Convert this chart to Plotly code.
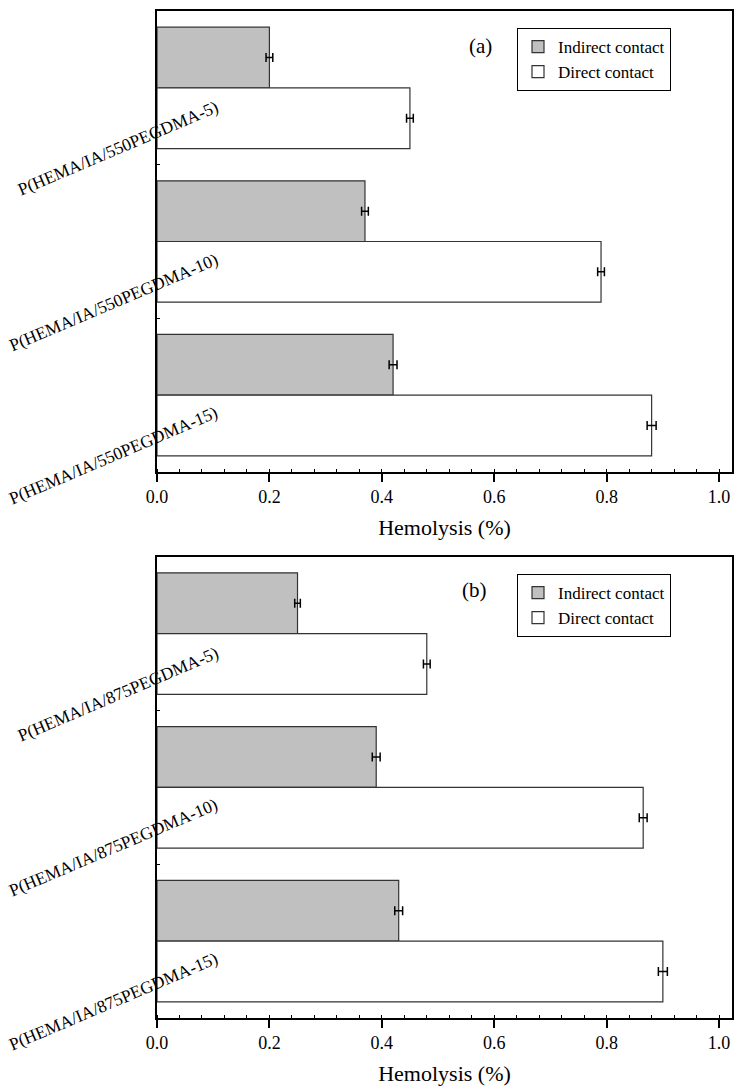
import plotly.graph_objects as go
from plotly.subplots import make_subplots

# ---- data ----
cats_a = ["P(HEMA/IA/550PEGDMA-5)", "P(HEMA/IA/550PEGDMA-10)", "P(HEMA/IA/550PEGDMA-15)"]
cats_b = ["P(HEMA/IA/875PEGDMA-5)", "P(HEMA/IA/875PEGDMA-10)", "P(HEMA/IA/875PEGDMA-15)"]
indirect_a = [0.20, 0.37, 0.42]
direct_a = [0.45, 0.79, 0.88]
indirect_a_err = [0.006, 0.006, 0.007]
direct_a_err = [0.006, 0.006, 0.008]
indirect_b = [0.25, 0.39, 0.43]
direct_b = [0.48, 0.865, 0.90]
indirect_b_err = [0.005, 0.007, 0.007]
direct_b_err = [0.006, 0.007, 0.008]
series_names = ["Indirect contact", "Direct contact"]
panel_labels = ["(a)", "(b)"]
x_title = "Hemolysis (%)"

FONT = "Liberation Serif, Times New Roman, serif"
GRAY = "#c0c0c0"
EDGE = "#333333"

fig = make_subplots(rows=2, cols=1)

def add_panel(row, cats, ind, ind_err, dire, dire_err, legend):
    fig.add_trace(go.Bar(
        y=cats, x=ind, orientation="h", name=series_names[0],
        marker=dict(color=GRAY, line=dict(color=EDGE, width=1.2)),
        error_x=dict(type="data", array=ind_err, color="black", thickness=1.5, width=4.5),
        legend=legend), row=row, col=1)
    fig.add_trace(go.Bar(
        y=cats, x=dire, orientation="h", name=series_names[1],
        marker=dict(color="white", line=dict(color=EDGE, width=1.2)),
        error_x=dict(type="data", array=dire_err, color="black", thickness=1.5, width=4.5),
        legend=legend), row=row, col=1)

add_panel(1, cats_a, indirect_a, indirect_a_err, direct_a, direct_a_err, "legend")
add_panel(2, cats_b, indirect_b, indirect_b_err, direct_b, direct_b_err, "legend2")

axis_common = dict(showline=True, linecolor="black", linewidth=1.5, mirror=True,
                   showgrid=False, zeroline=False, automargin=False)

for r, cats in ((1, cats_a), (2, cats_b)):
    fig.update_xaxes(range=[0, 1.023], dtick=0.2, tick0=0, tickformat=".1f",
                     ticks="outside", ticklen=8, tickwidth=1.5, tickcolor="black",
                     minor=dict(dtick=0.04, ticks="inside", ticklen=3, tickcolor="black", tickwidth=1),
                     tickfont=dict(family=FONT, size=18, color="black"),
                     title=dict(text=x_title, font=dict(family=FONT, size=22, color="black"), standoff=13),
                     **axis_common, row=r, col=1)
    fig.update_yaxes(type="category", categoryorder="array", categoryarray=cats,
                     autorange=False, range=[len(cats) - 0.5, -0.5], tickson="boundaries",
                     ticks="inside", ticklen=3, tickwidth=1, tickcolor="black",
                     showticklabels=False, **axis_common, row=r, col=1)

fig.update_layout(
    xaxis=dict(domain=[0, 1], anchor="y"),
    yaxis=dict(domain=[0.5422, 1.0]),
    xaxis2=dict(domain=[0, 1], anchor="y2"),
    yaxis2=dict(domain=[0.0, 0.4581]),
)

annotations = []
for cats, yref in ((cats_a, "y"), (cats_b, "y2")):
    for c in cats:
        annotations.append(dict(text=c, xref="paper", x=0, xshift=67, xanchor="right",
                                yref=yref, y=c, yshift=-60, yanchor="middle",
                                textangle=-23, showarrow=False,
                                font=dict(family=FONT, size=17.5, color="black")))
annotations.append(dict(text=panel_labels[0], xref="x domain", yref="y domain", x=0.5626, y=0.923,
                        xanchor="center", yanchor="middle",
                        showarrow=False, font=dict(family=FONT, size=21, color="black")))
annotations.append(dict(text=panel_labels[1], xref="x2 domain", yref="y2 domain", x=0.553, y=0.928,
                        xanchor="center", yanchor="middle",
                        showarrow=False, font=dict(family=FONT, size=21, color="black")))

legend_style = dict(xanchor="left", yanchor="top",
                    bordercolor="black", borderwidth=1, bgcolor="white",
                    font=dict(family=FONT, size=17, color="black"), traceorder="normal",
                    tracegroupgap=0)

fig.update_layout(
    width=734, height=1091,
    margin=dict(l=157, r=2, t=11, b=73, autoexpand=False),
    paper_bgcolor="white", plot_bgcolor="white",
    barmode="group", bargap=0.21, bargroupgap=0,
    showlegend=True,
    legend=dict(x=(517 - 157) / 575, y=(1018 - 28) / 1007, **legend_style),
    legend2=dict(x=(517 - 157) / 575, y=(1018 - 574) / 1007, **legend_style),
    annotations=annotations,
    font=dict(family=FONT, color="black"),
)

fig.write_html("out.html", config={"displayModeBar": False},
               post_script="document.body.style.margin='0';document.body.style.overflow='hidden';")
